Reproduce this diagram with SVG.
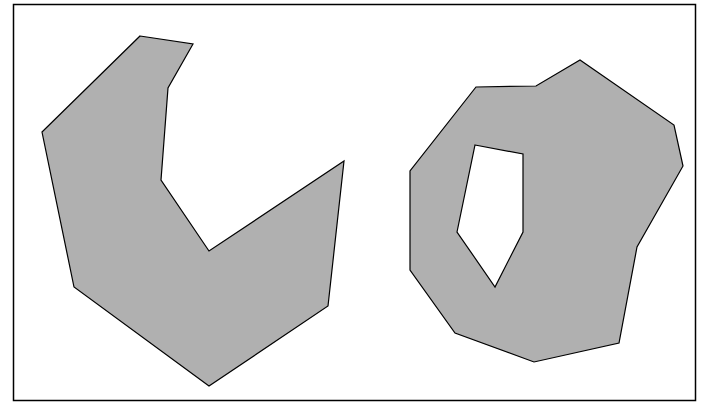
<svg xmlns="http://www.w3.org/2000/svg" width="702" height="402" viewBox="0 0 702 402">
<style>
.shape{fill:#b0b0b0;stroke:#000;stroke-width:1.2;stroke-linejoin:miter;fill-rule:evenodd}
</style>
<rect x="0" y="0" width="702" height="402" fill="#fff"/>
<rect x="13.5" y="4.5" width="682" height="396" fill="none" stroke="#000" stroke-width="1.5"/>
<g id="left-polygon">
<path class="shape" d="M140,36 L193,44 L168,88 L161,180 L209,251 L344,161 L328,306 L209,386 L74,287 L42,132 Z"/>
</g>
<g id="right-polygon">
<path class="shape" d="M476,87 L536,86 L580,60 L674,125 L683,166 L637,247 L619,343 L534,362 L455,333 L410,270 L410,171 Z M475,145 L523,154 L523,232 L495,287 L457,232 Z"/>
</g>
</svg>
